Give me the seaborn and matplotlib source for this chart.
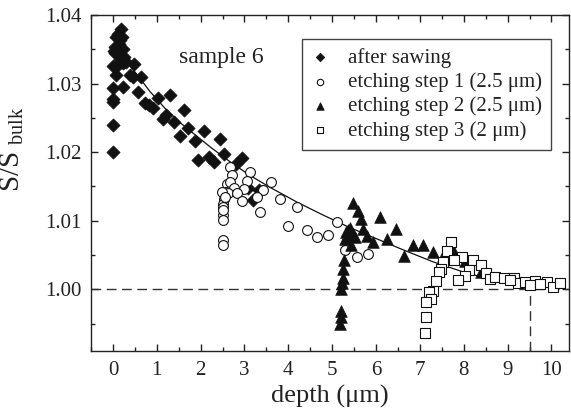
import numpy as np
import pandas as pd
import seaborn as sns
import matplotlib
matplotlib.use("Agg")
import matplotlib.pyplot as plt
from matplotlib.ticker import MultipleLocator, FormatStrFormatter

# --- datos ---
saw_x = [0.19, 0.11, 0.08, 0.15, 0.04, 0.11, 0.23, 0.04, 0.15, 0.26, 0.00, 0.11, 0.23,
         0.30, 0.49, 0.08, 0.38, 0.46, 0.64, 0.00, 0.24, 0.57, 0.00, 0.00, 1.03, 1.31,
         0.72, 0.83, 0.91, 1.63, 1.14, 1.21, 1.40, 1.71, 2.07, 1.52, 1.86, 2.43, 0.00,
         0.00, 1.94, 2.20, 2.31, 2.54, 2.94, 2.81, 3.09, 3.34, 3.20, 0.02, 0.13, 0.20, 0.17]
saw_y = [1.0380, 1.0373, 1.0368, 1.0364, 1.0354, 1.0351, 1.0351, 1.0344, 1.0342, 1.0339,
         1.0325, 1.0327, 1.0330, 1.0332, 1.0328, 1.0312, 1.0312, 1.0310, 1.0310, 1.0293,
         1.0295, 1.0287, 1.0278, 1.0273, 1.0279, 1.0284, 1.0271, 1.0269, 1.0264, 1.0261,
         1.0249, 1.0254, 1.0244, 1.0235, 1.0231, 1.0224, 1.0216, 1.0219, 1.0239, 1.0200,
         1.0188, 1.0193, 1.0186, 1.0198, 1.0191, 1.0182, 1.0148, 1.0145, 1.0130, 1.0348,
         1.0358, 1.0368, 1.0336]

etch1_x = [2.67, 3.13, 2.72, 2.60, 2.67, 3.05, 3.60, 2.76, 2.99, 2.58, 2.63, 2.84, 3.43,
           2.54, 2.94, 3.28, 2.52, 2.52, 3.80, 4.19, 3.36, 2.51, 2.51, 4.00, 4.42, 5.10,
           2.48, 2.51, 2.51, 4.65, 4.91, 5.29, 5.56, 5.82, 2.55, 2.50]
etch1_y = [1.0178, 1.0171, 1.0166, 1.0154, 1.0157, 1.0158, 1.0157, 1.0148, 1.0146, 1.0142,
           1.0140, 1.0140, 1.0145, 1.0132, 1.0129, 1.0135, 1.0125, 1.0120, 1.0131, 1.0120,
           1.0113, 1.0108, 1.0101, 1.0092, 1.0086, 1.0098, 1.0142, 1.0072, 1.0064, 1.0076,
           1.0079, 1.0058, 1.0047, 1.0051, 1.0135, 1.0115]

etch2_x = [5.47, 5.58, 5.65, 6.09, 5.41, 5.71, 6.45, 5.31, 5.37, 5.52, 5.79, 5.29, 5.42,
           5.92, 6.26, 6.85, 7.06, 7.29, 6.64, 5.27, 5.25, 5.24, 5.22, 5.21, 5.19, 5.19,
           5.18, 7.53, 7.76, 8.03, 8.40, 5.35, 5.45]
etch2_y = [1.0126, 1.0114, 1.0102, 1.0106, 1.0090, 1.0088, 1.0088, 1.0084, 1.0079, 1.0076,
           1.0078, 1.0074, 1.0064, 1.0069, 1.0073, 1.0064, 1.0064, 1.0054, 1.0048, 1.0042,
           1.0030, 1.0016, 1.0009, 1.0001, 0.9969, 0.9960, 0.9949, 1.0048, 1.0058, 1.0041,
           1.0025, 1.0087, 1.0082]

etch3_x = [7.70, 7.62, 7.95, 7.77, 8.21, 8.39, 7.53, 7.49, 7.44, 8.12, 8.03, 7.86, 8.50,
           8.59, 8.71, 8.92, 9.15, 9.24, 9.39, 9.62, 9.89, 10.04, 10.19, 9.51, 7.36, 7.30,
           7.21, 7.26, 7.15, 7.14, 7.11, 9.05, 9.75]
etch3_y = [1.0069, 1.0056, 1.0047, 1.0042, 1.0042, 1.0036, 1.0040, 1.0029, 1.0025, 1.0028,
           1.0020, 1.0014, 1.0024, 1.0015, 1.0018, 1.0017, 1.0016, 1.0009, 1.0011, 1.0012,
           1.0011, 1.0004, 1.0009, 1.0006, 1.0012, 0.9997, 0.9996, 0.9986, 0.9982, 0.9960,
           0.9936, 1.0013, 1.0008]

# curva de ajuste (puntos leidos sobre la linea)
fit_x = [0.30, 0.55, 0.85, 1.20, 1.55, 1.90, 2.25, 2.65, 3.10, 3.60, 4.20, 4.80, 5.40,
         6.00, 6.60, 7.30, 8.00, 8.80, 9.50]
fit_y = [1.0333, 1.0313, 1.0288, 1.0263, 1.0242, 1.0224, 1.0206, 1.0187, 1.0167, 1.0148,
         1.0127, 1.0108, 1.0090, 1.0074, 1.0058, 1.0040, 1.0025, 1.0011, 1.0000]

bulk_level = 1.00
cut_depth = 9.5

labels = ["after sawing", "etching step 1 (2.5 \u03bcm)",
          "etching step 2 (2.5 \u03bcm)", "etching step 3 (2 \u03bcm)"]

# --- estilo ---
sns.set_theme(style="ticks")
plt.rcParams["font.family"] = ["Liberation Serif", "DejaVu Serif"]
plt.rcParams["mathtext.fontset"] = "custom"
plt.rcParams["mathtext.rm"] = "Liberation Serif"
plt.rcParams["axes.linewidth"] = 1.0

fig, ax = plt.subplots(figsize=(5.71, 4.16), dpi=100)
fig.subplots_adjust(left=0.1594, right=0.9965, top=0.9639, bottom=0.1563)

dark = "#111111"
sns.scatterplot(x=saw_x, y=saw_y, marker="D", s=45, color=dark, edgecolor=dark,
                linewidth=0.5, ax=ax, label=labels[0], zorder=3)
sns.scatterplot(x=etch1_x, y=etch1_y, marker="o", s=50, facecolor="white", edgecolor=dark,
                linewidth=0.8, ax=ax, label=labels[1], zorder=3)
sns.scatterplot(x=etch2_x, y=etch2_y, marker="^", s=70, color=dark, edgecolor=dark,
                linewidth=0.5, ax=ax, label=labels[2], zorder=3)
sns.scatterplot(x=etch3_x, y=etch3_y, marker="s", s=45, facecolor="white", edgecolor=dark,
                linewidth=0.8, ax=ax, label=labels[3], zorder=3)

sns.lineplot(x=fit_x, y=fit_y, color=dark, linewidth=0.9, ax=ax, zorder=2,
             sort=False, estimator=None)

ax.axhline(bulk_level, color="#333333", linewidth=1.0, linestyle=(0, (7, 4)), zorder=1)
ax.plot([cut_depth, cut_depth], [0.991, bulk_level], color="#333333", linewidth=1.0,
        linestyle=(0, (7, 4)), zorder=1)

ax.set_xlim(-0.5, 10.4)
ax.set_ylim(0.991, 1.04)
ax.xaxis.set_major_locator(MultipleLocator(1))
ax.xaxis.set_minor_locator(MultipleLocator(0.5))
ax.yaxis.set_major_locator(MultipleLocator(0.01))
ax.yaxis.set_minor_locator(MultipleLocator(0.005))
ax.yaxis.set_major_formatter(FormatStrFormatter("%.2f"))
ax.tick_params(which="both", direction="in", top=True, right=True, colors="#222222",
               labelsize=15, width=1.0)
ax.tick_params(which="major", length=5, pad=7)
ax.tick_params(which="minor", length=3)
for sp in ax.spines.values():
    sp.set_color("#222222")

ax.set_xlabel("depth (\u03bcm)", fontsize=19, color="#222222", labelpad=4)
ax.set_ylabel(r"S/S$_{\rm\ bulk}$", fontsize=21, color="#222222")
ax.yaxis.set_label_coords(-0.135, 0.60)

ax.text(1.51, 1.033, "sample 6", fontsize=17, color="#222222", va="baseline")

leg = ax.legend(loc="upper left", bbox_to_anchor=(0.441, 0.928), fontsize=15,
                frameon=True, fancybox=False, edgecolor="#444444", framealpha=1,
                markerscale=0.65, handlelength=0.87, handletextpad=0.92, borderpad=0.42,
                labelspacing=0.22, borderaxespad=0)
leg.get_frame().set_linewidth(1.0)
for t in leg.get_texts():
    t.set_color("#222222")

fig.savefig("out.png", dpi=100)
